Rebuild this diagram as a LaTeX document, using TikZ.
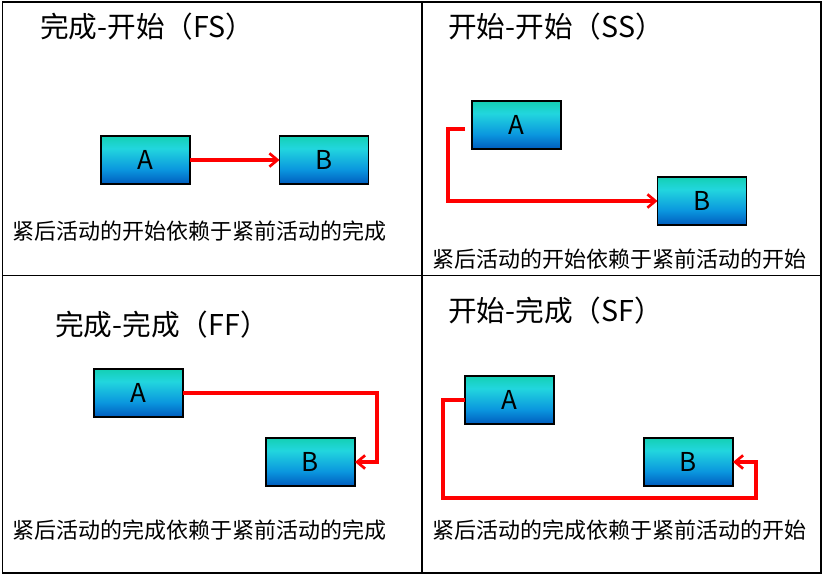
\documentclass[tikz,border=0pt]{standalone}
\usepackage{fontspec}
\newfontfamily\cjk{Noto Sans CJK SC}
\usetikzlibrary{arrows.meta}
\definecolor{bdark}{RGB}{0,92,190}
\definecolor{bmid}{RGB}{10,150,222}
\definecolor{bcyan}{RGB}{34,214,222}
\definecolor{bteal}{RGB}{20,208,180}
\definecolor{redline}{RGB}{255,0,0}
\pgfdeclareverticalshading{actshade}{100bp}{color(0bp)=(bdark); color(25bp)=(bdark); color(40bp)=(bmid); color(62bp)=(bcyan); color(75bp)=(bteal); color(100bp)=(bteal)}
\tikzset{
  act/.style={draw=black, line width=1.1pt, shading=actshade, minimum width=66.75pt, minimum height=36pt, inner sep=0pt, outer sep=0pt, font=\cjk\fontsize{19.5}{22}\selectfont},
  ttl/.style={anchor=west, inner sep=0pt, font=\cjk\fontsize{21.5}{25}\selectfont},
  desc/.style={anchor=west, inner sep=0pt, font=\cjk\fontsize{16.5}{20}\selectfont},
  dep/.style={draw=redline, line width=2.3pt, -{Straight Barb[length=6pt,width=10pt,line width=2pt]}},
  frame/.style={draw=black, line width=1.1pt}
}
\begin{document}
\begin{tikzpicture}[x=0.75pt,y=-0.75pt]
\useasboundingbox (0,0) rectangle (823,575);
\draw[frame] (2.5,2) rectangle (821,573);
\draw[frame] (422,2) -- (422,573);
\draw[frame] (2.5,275.5) -- (821,275.5);
% FS
\node[ttl] (t1) at (40,27) {完成-开始（FS）};
\node[act] (fsA) at (145.5,160) {A};
\node[act] (fsB) at (324,160) {B};
\draw[dep] (fsA.east) -- (fsB.west);
\node[desc] (d1) at (12,231) {紧后活动的开始依赖于紧前活动的完成};
% SS
\node[ttl] (t2) at (448,27) {开始-开始（SS）};
\node[act] (ssA) at (516.5,125) {A};
\node[act] (ssB) at (702,201) {B};
\coordinate (ss0) at (465,129);
\coordinate (ss1) at (448,129);
\draw[dep] (ss0) -- (ss1) |- (ssB.west);
\node[desc] (d2) at (432,259) {紧后活动的开始依赖于紧前活动的开始};
% FF
\node[ttl] (t3) at (55,325) {完成-完成（FF）};
\node[act] (ffA) at (138.5,393) {A};
\node[act] (ffB) at (310.5,462) {B};
\coordinate (ff1) at (377,393);
\draw[dep] (ffA.east) -- (ff1) |- (ffB.east);
\node[desc] (d3) at (12,530) {紧后活动的完成依赖于紧前活动的完成};
% SF
\node[ttl] (t4) at (448,311) {开始-完成（SF）};
\node[act] (sfA) at (509.5,400) {A};
\node[act] (sfB) at (688.5,462) {B};
\coordinate (sf1) at (443,498);
\coordinate (sf2) at (756,498);
\draw[dep] (sfA.west) -| (sf1) -- (sf2) |- (sfB.east);
\node[desc] (d4) at (432,530) {紧后活动的完成依赖于紧前活动的开始};
\end{tikzpicture}
\end{document}
